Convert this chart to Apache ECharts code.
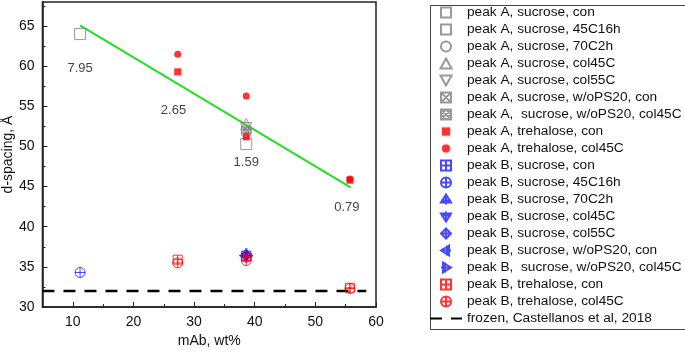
<!DOCTYPE html>
<html>
<head>
<meta charset="utf-8">
<script src="https://cdn.jsdelivr.net/npm/echarts@6/dist/echarts.min.js"></script>
<style>
  html, body { margin: 0; padding: 0; background: #fff; }
  #chart { width: 685px; height: 353px; }
</style>
</head>
<body>
<div id="chart"></div>
<script>
// axis ticks
const xTicks = [10, 20, 30, 40, 50, 60];
const xMinorTicks = [15, 25, 35, 45, 55];
const yTicks = [30, 35, 40, 45, 50, 55, 60, 65];
const yMinorTicks = [32.5, 37.5, 42.5, 47.5, 52.5, 57.5, 62.5, 67.5];

// peak A  [mAb wt%, d-spacing]
const aSucCon = [[11.2, 64.0]];
const aSuc45C16h = [[38.6, 50.3]];
const aSuc70C2h = [[38.6, 51.7]];
const aSucCol45C = [[38.6, 52.8]];
const aSucCol55C = [[38.6, 52.3]];
const aSucWoCon = [[38.4, 52.1]];
const aSucWoCol45C = [[38.8, 52.0]];
const aTreCon = [[27.3, 59.3], [38.6, 51.2], [55.7, 45.8]];
const aTreCol45C = [[27.3, 61.5], [38.6, 56.3], [55.7, 45.95]];

// peak B
const bSucCon = [[38.6, 36.4]];
const bSuc45C16h = [[11.2, 34.3], [38.6, 36.2]];
const bSuc70C2h = [[38.6, 36.7]];
const bSucCol45C = [[38.6, 36.3]];
const bSucCol55C = [[38.6, 36.4]];
const bSucWoCon = [[38.3, 36.4]];
const bSucWoCol45C = [[38.9, 36.4]];
const bTreCon = [[27.3, 35.9], [38.6, 36.3], [55.7, 32.4]];
const bTreCol45C = [[27.3, 35.5], [38.6, 35.8], [55.7, 32.3]];

// frozen reference line and linear fit
const frozen = [[5, 32], [58.4, 32]];
const fitLine = [[11.2, 65.1], [55.8, 44.9]];

// text notes near the fit
const notes = [[11.2, 59.7, '7.95'], [26.6, 54.5, '2.65'], [38.6, 48.0, '1.59'], [55.2, 42.4, '0.79']];

const GRAY = '#808080', RED = '#ff0000', BLUE = '#1a1aff';

const sym = {
  sq: 'path://M0,0H10V10H0Z',
  triUp: 'path://M5,0L10,9L0,9Z',
  triDown: 'path://M0,0H10L5,9Z',
  sqX: 'path://M0,0H10V10H0Z M0,0L10,10 M10,0L0,10',
  sqHatch: 'path://M0,0H10V10H0Z M0,0L10,10 M10,0L0,10 M0,5L5,0 M5,10L10,5 M0,5L5,10 M5,0L10,5',
  sqPlus: 'path://M0,0H10V10H0Z M5,0V10 M0,5H10',
  circPlus: 'path://M0,5A5,5 0 1 1 10,5A5,5 0 1 1 0,5Z M5,0V10 M0,5H10',
  triUpPlus: 'path://M5,0L10,8L0,8Z M5,0V10 M0,6H10',
  triDownPlus: 'path://M0,2H10L5,10Z M5,0V10 M0,4H10',
  diaPlus: 'path://M5,0L10,5L5,10L0,5Z M5,0V10 M0,5H10',
  triLeftPlus: 'path://M0,5L8,0V10Z M0,5H10 M6,0V10',
  triRightPlus: 'path://M10,5L2,0V10Z M0,5H10 M4,0V10'
};

function hollow(name, data, symbol, color, size) {
  return {
    name: name, type: 'scatter', data: data, symbol: symbol, symbolSize: size,
    itemStyle: { color: 'transparent', borderColor: color, borderWidth: 1 }
  };
}
function filled(name, data, symbol, color, size) {
  return { name: name, type: 'scatter', data: data, symbol: symbol, symbolSize: size,
    itemStyle: { color: color } };
}

const series = [
  hollow('peak A, sucrose, con', aSucCon, sym.sq, GRAY, 11),
  hollow('peak A, sucrose, 45C16h', aSuc45C16h, sym.sq, GRAY, 11),
  hollow('peak A, sucrose, 70C2h', aSuc70C2h, 'circle', GRAY, 10),
  hollow('peak A, sucrose, col45C', aSucCol45C, sym.triUp, GRAY, 11),
  hollow('peak A, sucrose, col55C', aSucCol55C, sym.triDown, GRAY, 11),
  hollow('peak A, sucrose, w/oPS20, con', aSucWoCon, sym.sqX, GRAY, 7),
  hollow('peak A,  sucrose, w/oPS20, col45C', aSucWoCol45C, sym.sqHatch, GRAY, 7),
  filled('peak A, trehalose, con', aTreCon, sym.sq, RED, 7),
  filled('peak A, trehalose, col45C', aTreCol45C, 'circle', RED, 7),
  hollow('peak B, sucrose, con', bSucCon, sym.sqPlus, BLUE, 9),
  hollow('peak B, sucrose, 45C16h', bSuc45C16h, sym.circPlus, BLUE, 10),
  hollow('peak B, sucrose, 70C2h', bSuc70C2h, sym.triUpPlus, BLUE, 10),
  hollow('peak B, sucrose, col45C', bSucCol45C, sym.triDownPlus, BLUE, 10),
  hollow('peak B, sucrose, col55C', bSucCol55C, sym.diaPlus, BLUE, 10),
  hollow('peak B, sucrose, w/oPS20, con', bSucWoCon, sym.triLeftPlus, BLUE, 10),
  hollow('peak B,  sucrose, w/oPS20, col45C', bSucWoCol45C, sym.triRightPlus, BLUE, 10),
  hollow('peak B, trehalose, con', bTreCon, sym.sqPlus, RED, 9),
  hollow('peak B, trehalose, col45C', bTreCol45C, sym.circPlus, RED, 10),
  {
    name: 'frozen, Castellanos et al, 2018', type: 'line', data: frozen, symbol: 'none',
    itemStyle: { color: '#000' },
    lineStyle: { color: '#000', width: 2.5, type: [12, 9] }, z: 1
  },
  {
    name: 'fit', type: 'line', data: fitLine, symbol: 'none', silent: true,
    lineStyle: { color: '#22e022', width: 2 }, z: 1
  },
  {
    name: 'notes', type: 'scatter', data: notes, symbolSize: 1, silent: true,
    itemStyle: { color: 'transparent' },
    label: { show: true, position: 'inside', color: '#111', fontSize: 13,
      fontFamily: 'Liberation Sans', formatter: p => p.value[2] }
  }
];

// legend entries: shrink the filled red ones with a white rim, hide the dot on the frozen line
const legendData = series.filter(s => s.name !== 'fit' && s.name !== 'notes').map(s => {
  const item = { name: s.name };
  if (s.type === 'line') {
    item.itemStyle = { color: 'transparent', borderWidth: 0 };
  } else if (s.itemStyle.color !== 'transparent') {
    item.itemStyle = { color: s.itemStyle.color, borderColor: '#fff', borderWidth: 2 };
  }
  return item;
});

const chart = echarts.init(document.getElementById('chart'), null, { renderer: 'canvas' });

const axisFont = { color: '#111', fontSize: 14, fontFamily: 'Liberation Sans' };

chart.setOption({
  animation: false,
  backgroundColor: '#fff',
  grid: { left: 42, right: 309, top: 2, bottom: 45, show: true, borderColor: '#222', borderWidth: 1.5 },
  xAxis: [
    {
      type: 'value', min: 5, max: 60,
      name: 'mAb, wt%', nameLocation: 'middle', nameGap: 27, nameTextStyle: axisFont,
      axisLine: { lineStyle: { color: '#222', width: 1.5 } },
      axisTick: { inside: true, length: 5, customValues: xTicks, lineStyle: { color: '#222' } },
      axisLabel: Object.assign({ margin: 8, customValues: xTicks }, axisFont),
      splitLine: { show: false }
    },
    {
      type: 'value', min: 5, max: 60, position: 'bottom',
      axisLine: { show: false },
      axisTick: { inside: true, length: 3, customValues: xMinorTicks, lineStyle: { color: '#222' } },
      axisLabel: { show: false, customValues: xMinorTicks },
      splitLine: { show: false }
    }
  ],
  yAxis: [
    {
      type: 'value', min: 30, max: 68,
      name: 'd-spacing, Å', nameLocation: 'middle', nameGap: 26, nameTextStyle: axisFont,
      axisLine: { lineStyle: { color: '#222', width: 1.5 } },
      axisTick: { inside: true, length: 5, customValues: yTicks, lineStyle: { color: '#222' } },
      axisLabel: Object.assign({ margin: 8, customValues: yTicks }, axisFont),
      splitLine: { show: false }
    },
    {
      type: 'value', min: 30, max: 68, position: 'left',
      axisLine: { show: false },
      axisTick: { inside: true, length: 3, customValues: yMinorTicks, lineStyle: { color: '#222' } },
      axisLabel: { show: false, customValues: yMinorTicks },
      splitLine: { show: false }
    }
  ],
  legend: {
    data: legendData,
    orient: 'vertical',
    left: 429, top: 5,
    padding: 0,
    itemWidth: 32, itemHeight: 10, itemGap: 2,
    textStyle: { color: '#111', fontSize: 13.7, lineHeight: 15, fontFamily: 'Liberation Sans' }
  },
  graphic: [
    {
      type: 'rect', left: 428, top: 3, silent: true,
      shape: { width: 256, height: 324 },
      style: { fill: 'none', stroke: '#444', lineWidth: 1 }
    }
  ],
  series: series
});
</script>
</body>
</html>
